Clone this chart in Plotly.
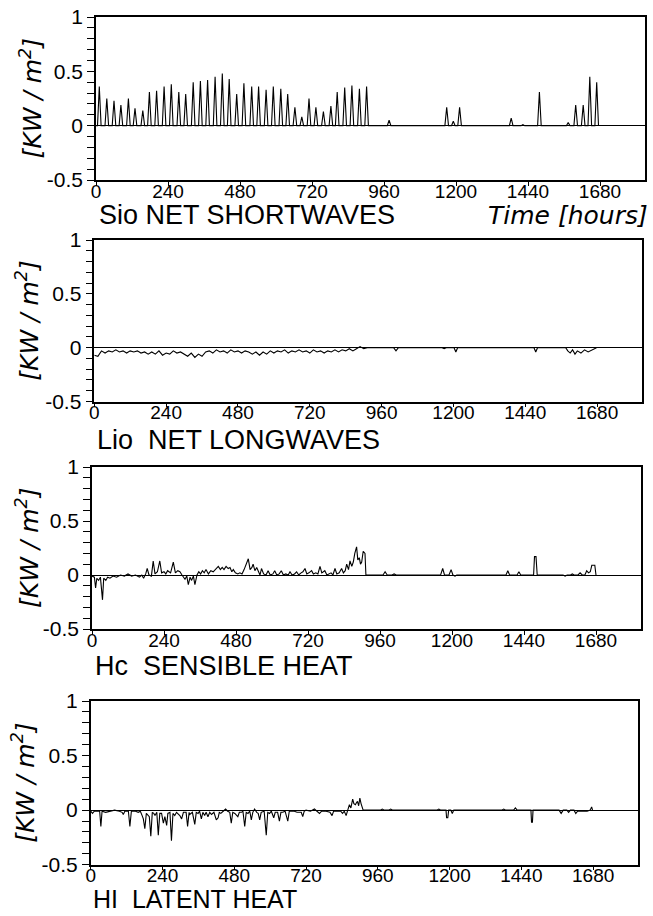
import numpy as np
import plotly.graph_objects as go

# ---------------- data ----------------
# Panel 1: net shortwave, daily peaks (hour of peak, peak KW/m2)
sw_peak_hour = [11, 36, 60, 83, 108, 130, 156, 178, 202, 227, 251, 276, 299, 324, 348,
                372, 397, 421, 444, 469, 493, 519, 542, 567, 591, 616, 639, 663, 686,
                710, 733, 758, 783, 804, 829, 853, 878, 902,
                977, 1169, 1191, 1212, 1384, 1423, 1478, 1574, 1599, 1624, 1646, 1669]
sw_peak_kw = [0.36, 0.25, 0.23, 0.19, 0.25, 0.16, 0.14, 0.31, 0.32, 0.36, 0.38, 0.31, 0.29,
              0.40, 0.41, 0.42, 0.45, 0.48, 0.43, 0.29, 0.39, 0.36, 0.36, 0.33, 0.36, 0.34,
              0.29, 0.17, 0.08, 0.25, 0.17, 0.13, 0.18, 0.31, 0.35, 0.37, 0.34, 0.36,
              0.05, 0.17, 0.04, 0.17, 0.07, 0.01, 0.31, 0.03, 0.19, 0.19, 0.45, 0.40]
sw_half_day_h = 6

# Panel 2: net longwave, 12-hourly readings for hours 0..900, then sparse events
lw_step_h = 12
lw_kw = [-0.07, -0.08, -0.03, -0.05, -0.03, -0.04, -0.02, -0.04, -0.03, -0.05, -0.03, -0.04,
         -0.03, -0.05, -0.04, -0.06, -0.04, -0.06, -0.03, -0.07, -0.05, -0.06, -0.03, -0.05,
         -0.04, -0.06, -0.08, -0.05, -0.09, -0.06, -0.08, -0.04, -0.03, -0.05, -0.02, -0.04,
         -0.03, -0.05, -0.02, -0.04, -0.03, -0.05, -0.03, -0.04, -0.06, -0.04, -0.07, -0.04,
         -0.06, -0.03, -0.05, -0.03, -0.04, -0.02, -0.05, -0.03, -0.04, -0.02, -0.04, -0.03,
         -0.05, -0.02, -0.04, -0.03, -0.05, -0.03, -0.04, -0.02, -0.04, -0.02, -0.03, -0.01,
         -0.03, -0.01, 0.01, -0.01]
lw_late_hour = [912, 1000, 1008, 1016, 1162, 1169, 1176, 1202, 1208, 1214, 1469, 1475, 1481,
                1575, 1582, 1590, 1598, 1606, 1614, 1626, 1638, 1650, 1662, 1672, 1678]
lw_late_kw = [0, 0, -0.03, 0, 0, -0.01, 0, 0, -0.04, 0, 0, -0.04, 0,
              0, -0.03, -0.05, -0.02, -0.06, -0.03, -0.05, -0.02, -0.04, -0.02, -0.01, 0]

# Panel 3: sensible heat
hc_hour = [0, 8, 12, 16, 22, 28, 35, 39, 46, 52, 60, 70, 82, 95, 108, 120, 132, 145, 158, 166,
           172, 179, 184, 190, 198, 204, 210, 218, 226, 232, 240, 246, 252, 262, 271, 278, 286,
           293, 300, 310, 316, 321, 327, 332, 338, 343, 350, 356, 362, 368, 374, 380, 388, 396,
           404, 412, 421, 428, 434, 440, 447, 454, 460, 466, 471, 478, 486, 493, 500, 507, 521,
           527, 533, 537, 543, 549, 555, 560, 565, 572, 580, 587, 594, 603, 609, 616, 624, 631,
           638, 646, 654, 660, 667, 675, 682, 689, 697, 703, 710, 716, 723, 732, 738, 746, 753,
           760, 766, 771, 776, 783, 790, 797, 803, 810, 816, 824, 832, 838, 844, 849, 855, 860,
           866, 871, 876, 882, 886, 891, 895, 899, 904, 910, 913,
           970, 977, 984, 1000, 1007, 1014, 1162, 1169, 1175, 1190, 1197, 1203, 1210, 1216,
           1380, 1386, 1392, 1417, 1423, 1429, 1472, 1475, 1480, 1484, 1570, 1577, 1584, 1595,
           1601, 1607, 1620, 1627, 1634, 1643, 1649, 1655, 1661, 1666, 1676, 1680]
hc_kw = [-0.01, -0.02, -0.12, -0.03, -0.05, -0.02, -0.23, -0.03, -0.05, -0.02, -0.03, -0.01,
         -0.02, 0.0, -0.01, 0.01, -0.01, 0.0, -0.02, 0.0, -0.03, 0.01, 0.06, 0.0, -0.01, 0.13,
         0.01, 0.03, 0.13, 0.02, 0.03, 0.01, 0.04, 0.02, 0.12, 0.02, 0.04, 0.03, 0.0, -0.04,
         -0.01, -0.09, -0.02, -0.05, -0.01, -0.09, 0.0, 0.03, 0.01, 0.04, 0.02, 0.05, 0.01,
         0.04, 0.03, 0.05, 0.08, 0.05, 0.07, 0.05, 0.08, 0.06, 0.07, 0.03, 0.05, 0.02, 0.01,
         0.02, 0.01, 0.05, 0.15, 0.05, 0.07, 0.10, 0.04, 0.07, 0.02, 0.0, 0.06, 0.01, 0.0, 0.04,
         0.0, 0.01, 0.04, 0.0, 0.01, 0.04, 0.0, 0.01, 0.0, 0.03, 0.0, 0.01, 0.03, 0.0, 0.02,
         0.03, 0.06, 0.01, 0.02, 0.04, 0.01, 0.02, 0.01, 0.08, 0.02, 0.03, 0.04, 0.0, 0.01,
         0.02, 0.0, 0.06, 0.01, 0.02, 0.06, 0.02, 0.04, 0.10, 0.05, 0.13, 0.08, 0.12, 0.20,
         0.26, 0.14, 0.16, 0.10, 0.12, 0.22, 0.20, 0.0,
         0, 0.03, 0, 0, 0.01, 0, 0, 0.06, 0, 0, 0.05, 0, -0.01, 0,
         0, 0.04, 0, 0, 0.03, 0, 0, 0.17, 0.17, 0, 0, -0.01, 0, 0,
         0.01, 0, 0, 0.02, 0, 0, 0.04, 0.02, 0.03, 0.09, 0.09, 0]

# Panel 4: latent heat
hl_hour = [0, 6, 12, 30, 34, 38, 50, 65, 80, 96, 105, 109, 114, 126, 131, 136, 150, 159, 166,
           172, 176, 181, 186, 196, 201, 206, 211, 215, 221, 226, 231, 237, 243, 248, 254, 258,
           265, 270, 275, 281, 287, 298, 304, 310, 319, 324, 329, 331, 340, 348, 353, 359, 364,
           370, 375, 381, 386, 392, 398, 404, 412, 420, 426, 430, 435, 443, 451, 458, 465, 470,
           475, 482, 487, 492, 497, 504, 509, 515, 520, 526, 532, 537, 542, 548, 555, 560, 565,
           570, 580, 587, 592, 598, 604, 612, 617, 625, 631, 636, 642, 650, 659, 664, 672, 681,
           690, 704, 709, 714, 720, 735, 748, 756, 765, 772, 787, 800, 807, 812, 826, 836, 842,
           848, 854, 860, 865, 870, 876, 880, 885, 889, 892, 896, 900, 904, 907, 911,
           968, 975, 982, 996, 1003, 1010, 1157, 1164, 1171, 1188, 1190, 1194, 1197, 1204, 1209,
           1214, 1374, 1381, 1388, 1414, 1420, 1426, 1472, 1474, 1477, 1479, 1566, 1573, 1580,
           1592, 1598, 1604, 1616, 1622, 1628, 1642, 1648, 1660, 1670, 1675, 1678]
hl_kw = [-0.01, -0.03, -0.01, -0.01, -0.15, -0.01, -0.02, -0.01, 0.0, -0.01, -0.02, -0.04,
         -0.01, -0.01, -0.15, -0.01, -0.01, -0.02, -0.01, -0.05, -0.08, -0.17, -0.03, -0.06,
         -0.24, -0.02, -0.03, -0.05, -0.02, -0.23, -0.03, -0.03, -0.12, -0.06, -0.14, -0.03,
         -0.02, -0.28, -0.03, -0.05, -0.02, -0.05, -0.08, -0.02, -0.02, -0.15, -0.02, -0.04,
         -0.02, -0.13, -0.02, -0.03, -0.01, -0.08, -0.02, -0.05, -0.02, -0.06, -0.02, -0.04,
         -0.02, -0.09, -0.07, -0.02, -0.03, -0.01, 0.01, -0.01, -0.02, -0.12, -0.02, -0.03,
         -0.05, -0.06, -0.02, -0.02, -0.01, -0.15, -0.02, -0.03, -0.01, -0.09, -0.02, 0.01,
         -0.02, -0.03, -0.09, -0.02, -0.01, -0.23, -0.02, -0.03, -0.01, -0.07, -0.02, -0.02,
         -0.10, -0.02, -0.02, -0.01, -0.10, -0.01, -0.01, -0.01, -0.02, -0.02, -0.06, -0.01,
         0.0, -0.01, 0.01, -0.01, -0.03, -0.01, -0.01, -0.02, -0.05, -0.01, -0.01, -0.01,
         -0.03, -0.01, -0.05, 0.0, 0.05, 0.02, 0.10, 0.06, 0.05, 0.07, 0.08, 0.04, 0.11, 0.06,
         0.04, 0.0,
         0, 0.01, 0, 0, 0.01, 0, 0, 0.01, 0, 0, -0.07, -0.07, 0, 0, -0.03,
         0, 0, 0.01, 0, 0, 0.02, 0, 0, -0.11, -0.11, 0, 0, -0.03, 0,
         0, -0.02, 0, 0, -0.03, -0.01, -0.01, -0.01, -0.01, 0, 0.03, 0]

x_tick_vals = [0, 240, 480, 720, 960, 1200, 1440, 1680]
y_tick_vals = [-0.5, 0, 0.5, 1]
y_tick_text = ["-0.5", "0", "0.5", "1"]
panel_titles = ["Sio NET SHORTWAVES", "Lio\u00a0 NET LONGWAVES",
                "Hc\u00a0 SENSIBLE HEAT", "HI\u00a0 LATENT HEAT"]
y_title = "[KW / m<sup>2</sup>]"
time_title = "Time [hours]"

# ---------------- build series ----------------
sw_x, sw_y = [0], [0]
for h, v in zip(sw_peak_hour, sw_peak_kw):
    sw_x += [h - sw_half_day_h, h, h + sw_half_day_h]
    sw_y += [0, v, 0]

lw_x = list(np.arange(len(lw_kw)) * lw_step_h) + lw_late_hour
lw_y = lw_kw + lw_late_kw

series = [(sw_x, sw_y), (lw_x, lw_y), (hc_hour, hc_kw), (hl_hour, hl_kw)]

W, H = 653, 916
# plot-area pixel boxes (left, right, top, bottom)
boxes = [(96, 645, 17, 180), (94.3, 642, 240, 401.5), (92, 641, 467, 629), (90.7, 638, 701, 864.7)]
title_pos = [(97, 215, 27), (95, 440, 27), (93, 666, 27), (91, 899, 25)]
ytitle_x = [31, 28, 27, 24]

fig = go.Figure()
for i, ((x, y), (l, r, t, b)) in enumerate(zip(series, boxes)):
    n = "" if i == 0 else str(i + 1)
    fig.add_trace(go.Scatter(x=x, y=y, mode="lines", line=dict(color="black", width=1.1),
                             xaxis="x" + n, yaxis="y" + n, showlegend=False,
                             hoverinfo="skip"))
    fig.update_layout(**{
        "xaxis" + n: dict(domain=[l / W, r / W], anchor="y" + n, range=[0, 1830],
                          tickvals=x_tick_vals, ticks="outside", ticklen=4, tickwidth=1.2,
                          tickcolor="black", showgrid=False, zeroline=False,
                          showline=True, mirror=True, linecolor="black", linewidth=1.5,
                          ticklabelstandoff=-11,
                          tickfont=dict(family="Liberation Sans", size=19, color="black"),
                          automargin=False, fixedrange=True),
        "yaxis" + n: dict(domain=[1 - b / H, 1 - t / H], anchor="x" + n, range=[-0.5, 1],
                          tickvals=y_tick_vals, ticktext=y_tick_text, ticks="outside",
                          ticklen=7, tickwidth=1.2, tickcolor="black",
                          minor=dict(dtick=0.1, ticks="outside", ticklen=7, tickwidth=1.2,
                                     tickcolor="black", showgrid=False),
                          showgrid=False, zeroline=True, zerolinecolor="black",
                          zerolinewidth=1.2, showline=True, mirror=True, linecolor="black",
                          linewidth=1.5,
                          tickfont=dict(family="Liberation Sans", size=21, color="black"),
                          automargin=False, fixedrange=True),
    })
    tx, ty, ts = title_pos[i]
    fig.add_annotation(text=panel_titles[i], xref="paper", yref="paper", x=tx / W,
                       y=1 - ty / H, xanchor="left", yanchor="middle", showarrow=False,
                       font=dict(family="Liberation Sans", size=ts, color="black"))
    fig.add_annotation(text=y_title, xref="paper", yref="paper", x=ytitle_x[i] / W,
                       y=1 - (t + b) / 2 / H, xanchor="center", yanchor="middle",
                       textangle=-90, showarrow=False,
                       font=dict(family="DejaVu Sans", size=25, color="black", style="italic"))

fig.add_annotation(text=time_title, xref="paper", yref="paper", x=650 / W, y=1 - 215 / H,
                   xanchor="right", yanchor="middle", showarrow=False,
                   font=dict(family="DejaVu Sans", size=25, color="black", style="italic"))

fig.update_layout(width=W, height=H, margin=dict(l=0, r=0, t=0, b=0),
                  paper_bgcolor="white", plot_bgcolor="white", template="none",
                  autosize=False)
fig.write_html("out.html", config={"displayModeBar": False},
               post_script="document.body.style.margin='0';document.body.style.overflow='hidden';")
